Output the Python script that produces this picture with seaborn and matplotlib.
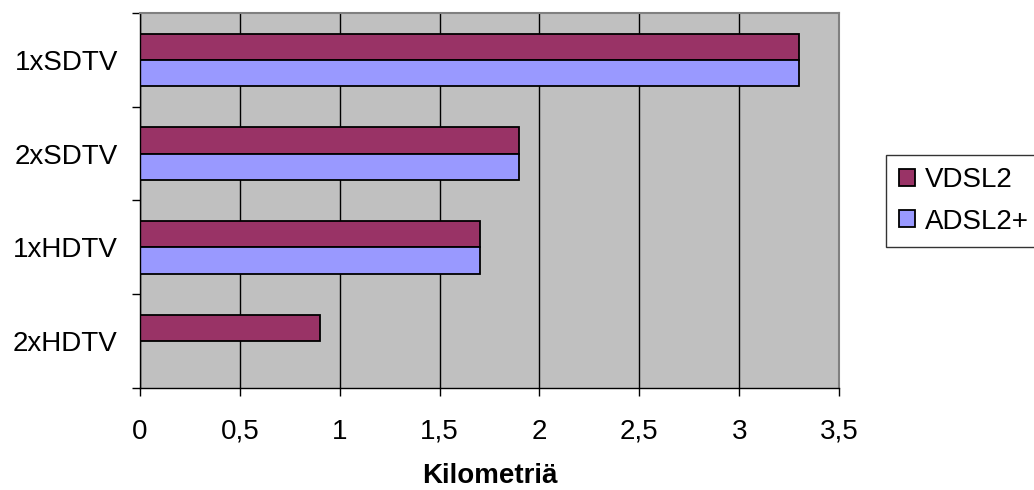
import matplotlib
matplotlib.use("Agg")
import matplotlib.pyplot as plt
import seaborn as sns
import pandas as pd
from matplotlib.patches import Patch
from matplotlib.ticker import MultipleLocator

categories = ["1xSDTV", "2xSDTV", "1xHDTV", "2xHDTV"]
vdsl2 = [3.3, 1.9, 1.7, 0.9]
adsl2 = [3.3, 1.9, 1.7, None]
series = ["VDSL2", "ADSL2+"]
colors = ["#993366", "#9999FF"]
xticks = [0, 0.5, 1, 1.5, 2, 2.5, 3, 3.5]
xticklabels = ["0", "0,5", "1", "1,5", "2", "2,5", "3", "3,5"]

rows = []
for c, v, a in zip(categories, vdsl2, adsl2):
    if v is not None:
        rows.append((c, "VDSL2", v))
    if a is not None:
        rows.append((c, "ADSL2+", a))
df = pd.DataFrame(rows, columns=["cat", "series", "km"])

sns.set_style("white")
plt.rcParams["font.family"] = ["Liberation Sans", "DejaVu Sans"]
plt.rcParams["text.color"] = "black"
plt.rcParams["axes.labelcolor"] = "black"
plt.rcParams["xtick.color"] = "black"
plt.rcParams["ytick.color"] = "black"

fig = plt.figure(figsize=(10.34, 4.9), dpi=100)
ax = fig.add_axes([140/1034, 1-388/490, (839-140)/1034, (388-13)/490])
ax.set_facecolor("#C0C0C0")
ax.set_axisbelow(True)

sns.barplot(data=df, y="cat", x="km", hue="series", order=categories,
            hue_order=series, palette=colors, orient="h", width=0.56,
            edgecolor="black", linewidth=1.3, saturation=1, ax=ax, legend=False)

ax.set_xlim(0, 3.5)
ax.set_ylim(3.5, -0.5)
ax.set_xticks(xticks)
ax.set_xticklabels(xticklabels, fontsize=20)
ax.set_yticks(range(len(categories)))
ax.set_yticklabels(categories, fontsize=20)
ax.yaxis.set_minor_locator(MultipleLocator(1, offset=0.5))
ax.tick_params(axis="y", which="major", length=0, pad=16, labelcolor="black")
ax.tick_params(axis="y", which="minor", length=6, width=1, color="black", direction="out", left=True)
ax.tick_params(axis="x", which="major", length=6, width=1, color="black", direction="out",
               bottom=True, pad=16, labelcolor="black")
ax.grid(axis="x", color="black", linewidth=1)
ax.grid(axis="y", visible=False)
ax.set_ylabel("")
ax.set_xlabel("Kilometriä", fontsize=20, fontweight="bold", labelpad=13, color="black")

for s in ["top", "right"]:
    ax.spines[s].set_visible(True)
    ax.spines[s].set_color("#808080")
    ax.spines[s].set_linewidth(1.5)
for s in ["left", "bottom"]:
    ax.spines[s].set_color("black")
    ax.spines[s].set_linewidth(1)

handles = [Patch(facecolor=c, edgecolor="black", linewidth=1.3, label=s) for s, c in zip(series, colors)]
leg = fig.legend(handles=handles, loc="center left", bbox_to_anchor=(886/1034, 1-201/490),
                 fontsize=20, frameon=True, fancybox=False, handlelength=0.58, handleheight=0.58,
                 handletextpad=0.36, borderpad=0.45, labelspacing=0.55, borderaxespad=0)
leg.get_frame().set_edgecolor("black")
leg.get_frame().set_linewidth(1)
for t in leg.get_texts():
    t.set_color("black")

fig.savefig("out.png", dpi=100)
